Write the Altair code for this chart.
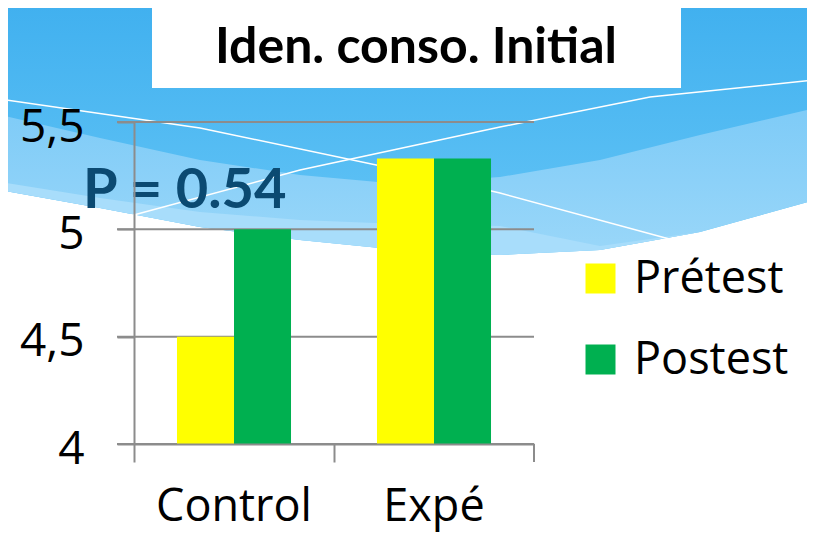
import altair as alt
import pandas as pd

# ---- chart values ----
groups = ["Control", "Expé"]
series = ["Prétest", "Postest"]
pretest = [4.5, 5.33]
postest = [5.0, 5.33]
y_ticks = [4, 4.5, 5, 5.5]
title_text = "Iden. conso. Initial"
p_text = "P = 0.54"
bar_colors = ["#ffff00", "#00b050"]

# ---- decorative slide background (wave shapes, page pixel space) ----
bg_x = [0, 100, 200, 300, 400, 500, 600, 700, 815]
bg_low = [190, 208, 227, 240, 250, 255, 250, 232, 200]
bg_band = [115, 138, 160, 175, 184, 177, 160, 135, 108]
bg_light = [182, 198, 212, 220, 224, 226, 246, 232, 200]
line_a_x = [0, 200, 400, 500, 673]
line_a_y = [99, 128, 170, 193, 240]
line_b_x = [130, 300, 500, 650, 815]
line_b_y = [216, 170, 127, 97, 80]

rows = []
for g, a, b in zip(groups, pretest, postest):
    rows.append({"group": g, "series": series[0], "value": a})
    rows.append({"group": g, "series": series[1], "value": b})
df = pd.DataFrame(rows)

FONT = "Open Sans"
GRAY = "#8c8c8c"
W, H = 400, 322

# background layer
bx_scale = alt.Scale(domain=[0, 815], range=[-134, 681], nice=False, zero=False)
by_scale = alt.Scale(domain=[0, 543], range=[-122, 421], nice=False, zero=False)
df_bg = pd.DataFrame({"bx": bg_x, "low": bg_low, "band": bg_band, "light": bg_light})
df_lines = pd.DataFrame({
    "lx": line_a_x + line_b_x,
    "ly": line_a_y + line_b_y,
    "id": ["a"] * len(line_a_x) + ["b"] * len(line_b_x),
})

top_grad = alt.Gradient(
    gradient="linear",
    stops=[alt.GradientStop(color="#40b0ef", offset=0), alt.GradientStop(color="#64c5f6", offset=1)],
    x1=0, x2=0, y1=0, y2=1,
)
band_grad = alt.Gradient(
    gradient="linear",
    stops=[alt.GradientStop(color="#7ecbf7", offset=0), alt.GradientStop(color="#9ad7f9", offset=1)],
    x1=0, x2=0, y1=0, y2=1,
)

bg_top = alt.Chart(df_bg).mark_area(color=top_grad).encode(
    x=alt.X("bx:Q", scale=bx_scale, axis=None),
    y=alt.Y("low:Q", scale=by_scale, axis=None),
    y2=alt.datum(0),
)
bg_mid = alt.Chart(df_bg).mark_area(color=band_grad).encode(
    x=alt.X("bx:Q", scale=bx_scale, axis=None),
    y=alt.Y("band:Q", scale=by_scale, axis=None),
    y2=alt.Y2("low:Q"),
)
bg_lt = alt.Chart(df_bg).mark_area(color="#a8ddfb").encode(
    x=alt.X("bx:Q", scale=bx_scale, axis=None),
    y=alt.Y("light:Q", scale=by_scale, axis=None),
    y2=alt.Y2("low:Q"),
)
bg_lines = alt.Chart(df_lines).mark_line(color="white", strokeWidth=1.5).encode(
    x=alt.X("lx:Q", scale=bx_scale, axis=None),
    y=alt.Y("ly:Q", scale=by_scale, axis=None),
    detail="id:N",
)
background = alt.layer(bg_top, bg_mid, bg_lt, bg_lines)

# main chart
x_scale = alt.Scale(paddingInner=0, paddingOuter=0)
x_axis = alt.Axis(
    title=None, labelFontSize=45, labelFont=FONT, labelColor="black", labelAngle=0,
    labelPadding=22, tickSize=18, tickColor=GRAY, tickWidth=2, domainColor=GRAY,
    domainWidth=2, bandPosition=0, zindex=1, grid=False,
)
y_scale = alt.Scale(domain=[4, 5.5], nice=False, zero=False)
y_axis = alt.Axis(
    title=None, values=y_ticks, labelExpr="replace(format(datum.value, '~g'), '.', ',')",
    labelFontSize=46, labelFont=FONT, labelColor="black", labelPadding=33, labelOffset=5,
    tickSize=17, tickColor=GRAY, tickWidth=2, domainColor=GRAY, domainWidth=2,
    grid=False, zindex=1,
)

grid = alt.Chart(pd.DataFrame({"value": y_ticks})).mark_rule(color=GRAY, strokeWidth=2).encode(
    y=alt.Y("value:Q", scale=y_scale, axis=y_axis),
    x=alt.value(-17),
    x2=alt.value(W),
)

bars = alt.Chart(df).mark_bar().encode(
    x=alt.X("group:N", sort=groups, scale=x_scale, axis=x_axis),
    xOffset=alt.XOffset("series:N", sort=series,
                        scale=alt.Scale(domain=series, paddingInner=0, paddingOuter=0.754)),
    y=alt.Y("value:Q", scale=y_scale, axis=y_axis),
    y2=alt.datum(4),
    color=alt.Color(
        "series:N",
        scale=alt.Scale(domain=series, range=bar_colors),
        legend=alt.Legend(
            title=None, orient="none", legendX=444, legendY=134, symbolType="square",
            symbolSize=900, symbolStrokeWidth=0, labelFontSize=45, labelFont=FONT,
            labelColor="black", labelOffset=11, rowPadding=35, padding=0,
        ),
    ),
)

end_tick = alt.Chart(pd.DataFrame({"group": [groups[-1]]})).mark_rule(color=GRAY, strokeWidth=2).encode(
    x=alt.X("group:N", sort=groups, scale=x_scale, axis=x_axis, bandPosition=1),
    y=alt.value(H),
    y2=alt.value(H + 18),
)

p_label = alt.Chart(pd.DataFrame({"t": [p_text]})).mark_text(
    align="left", baseline="alphabetic", font="Lato", fontWeight="bold", fontSize=56, color="#0b4a72"
).encode(text="t:N", x=alt.value(-51), y=alt.value(86))

title_box = alt.Chart(pd.DataFrame({"t": [title_text]})).mark_rect(color="white").encode(
    x=alt.value(18), x2=alt.value(547), y=alt.value(-118), y2=alt.value(-34)
)
title_label = alt.Chart(pd.DataFrame({"t": [title_text]})).mark_text(
    align="center", baseline="alphabetic", font="Lato", fontWeight="bold", fontSize=50, color="black"
).encode(text="t:N", x=alt.value(282), y=alt.value(-59))

main = alt.layer(grid, bars, end_tick, p_label, title_box, title_label)

chart = (
    alt.layer(background, main)
    .resolve_scale(x="independent", y="independent")
    .properties(
        width=W, height=H, autosize="none",
        padding={"left": 126, "top": 114, "right": 273, "bottom": 91},
        background="white",
    )
    .configure_view(stroke=None)
)

chart.save("out.html", embed_options={"renderer": "svg", "actions": False})
